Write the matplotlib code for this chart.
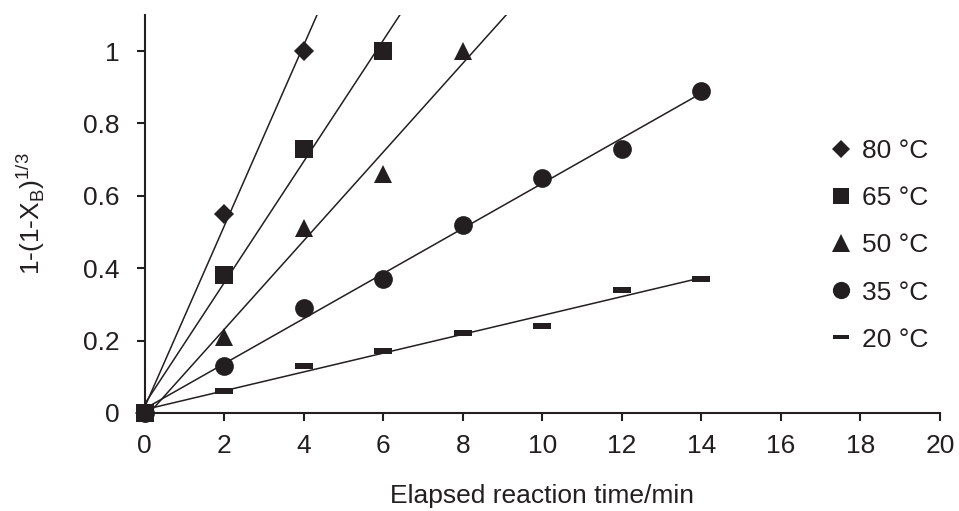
import numpy as np
import matplotlib
matplotlib.use("Agg")
import matplotlib.pyplot as plt
from matplotlib.lines import Line2D

plt.rcParams['font.family'] = ['Liberation Sans', 'DejaVu Sans']
plt.rcParams['mathtext.fontset'] = 'custom'
plt.rcParams['mathtext.rm'] = 'Liberation Sans'

labels = ["80 °C", "65 °C", "50 °C", "35 °C", "20 °C"]
t80 = [0, 2, 4]
y80 = [0, 0.55, 1.0]
t65 = [0, 2, 4, 6]
y65 = [0, 0.38, 0.73, 1.0]
t50 = [0, 2, 4, 6, 8]
y50 = [0, 0.21, 0.51, 0.66, 1.0]
t35 = [0, 2, 4, 6, 8, 10, 12, 14]
y35 = [0, 0.13, 0.29, 0.37, 0.52, 0.65, 0.73, 0.89]
t20 = [0, 2, 4, 6, 8, 10, 12, 14]
y20 = [0, 0.06, 0.13, 0.17, 0.22, 0.24, 0.34, 0.37]
xticks = [0, 2, 4, 6, 8, 10, 12, 14, 16, 18, 20]
yticks = [0, 0.2, 0.4, 0.6, 0.8, 1.0]
yticklabels = ["0", "0.2", "0.4", "0.6", "0.8", "1"]

C = '#231f20'
FS = 19
dash = [(-1, -0.28), (1, -0.28), (1, 0.28), (-1, 0.28), (-1, -0.28)]
markers = [('D', 10), ('s', 12.5), ('^', 13.5), ('o', 13.5), (dash, 13)]
zorders = [3, 3.5, 3, 3, 3]
series = [(t80, y80), (t65, y65), (t50, y50), (t35, y35), (t20, y20)]

fig = plt.figure(figsize=(9.59, 5.11), dpi=100)
ax = fig.add_axes([0.151, 0.192, 0.829, 0.779])

handles = []
for (t, y), (m, ms), z, lab in zip(series, markers, zorders, labels):
    t = np.array(t, float); y = np.array(y, float)
    k, b = np.polyfit(t, y, 1)
    xx = np.array([0, 14])
    ax.plot(xx, k * xx + b, color=C, lw=1.1, zorder=2)
    ax.plot(t, y, linestyle='none', marker=m, ms=ms, color=C, mec=C, mew=0, zorder=z, clip_on=False)
    handles.append(Line2D([], [], linestyle='none', marker=m, ms=ms * 0.92, color=C, mew=0))

ax.set_xlim(0, 20)
ax.set_ylim(0, 1.1)
ax.set_xticks(xticks)
ax.set_xticklabels([str(v) for v in xticks])
ax.set_yticks(yticks)
ax.set_yticklabels(yticklabels)
for s in ['top', 'right']:
    ax.spines[s].set_visible(False)
for s in ['left', 'bottom']:
    ax.spines[s].set_linewidth(1.5)
    ax.spines[s].set_color(C)
ax.tick_params(direction='out', length=6, width=1.5, color=C, labelsize=FS, labelcolor=C)
ax.tick_params(axis='y', pad=12)
ax.tick_params(axis='x', pad=9)

ax.set_xlabel("Elapsed reaction time/min", fontsize=FS, color=C, labelpad=19)
ax.set_ylabel(r"1-(1-X$_\mathregular{B}$)$^\mathregular{1/3}$", fontsize=FS, color=C, labelpad=26)

fig.legend(handles, labels, loc='center left', bbox_to_anchor=(0.866, 0.52), frameon=False,
           fontsize=FS, labelspacing=0.88, handlelength=0.8, handletextpad=0.4, labelcolor=C,
           borderpad=0, borderaxespad=0)

fig.savefig("out.png", dpi=100)
